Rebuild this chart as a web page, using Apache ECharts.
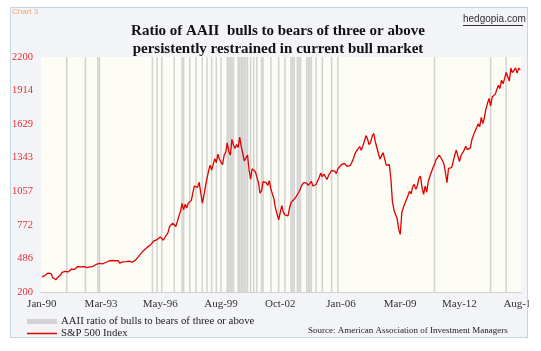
<!DOCTYPE html>
<html>
<head>
<meta charset="utf-8">
<script src="https://cdn.jsdelivr.net/npm/echarts@6/dist/echarts.min.js"></script>
<style>
  html, body { margin: 0; padding: 0; background: #ffffff; }
  #clip { position: absolute; left: 0; top: 0; width: 529px; height: 351px; overflow: hidden; }
  #frame { position: absolute; left: 10px; top: 7px; width: 516px; height: 329px;
           border: 1px solid #c8d5e3; background: #f3f4f7; }
  #chart { position: absolute; left: 0; top: 0; width: 541px; height: 351px; }
</style>
</head>
<body>
<div id="clip">
  <div id="frame"></div>
  <div id="chart"></div>
</div>
<script>
// tick labels
const xTicks = ['Jan-90', 'Mar-93', 'May-96', 'Aug-99', 'Oct-02', 'Jan-06', 'Mar-09', 'May-12', 'Aug-15']
const yTicks = ['200', '486', '772', '1057', '1343', '1629', '1914', '2200']

// S&P 500, monthly, Jan-90 .. Aug-15
const spx = [
  329, 332, 340, 331, 361, 358, 356, 323, 306, 304, 322, 330,
  344, 367, 375, 375, 390, 371, 388, 395, 388, 392, 375, 417,
  409, 413, 404, 415, 415, 408, 424, 414, 418, 419, 431, 436,
  439, 443, 452, 440, 450, 451, 448, 464, 459, 468, 462, 466,
  482, 467, 446, 451, 457, 444, 458, 475, 463, 472, 454, 459,
  470, 487, 501, 515, 533, 545, 562, 562, 584, 582, 605, 616,
  636, 640, 646, 654, 669, 671, 640, 652, 687, 705, 757, 741,
  786, 791, 757, 801, 848, 885, 954, 899, 947, 915, 955, 970,
  980, 1049, 1102, 1112, 1091, 1134, 1121, 957, 1017, 1099, 1164, 1229,
  1280, 1238, 1286, 1335, 1302, 1373, 1329, 1320, 1283, 1363, 1389, 1469,
  1394, 1366, 1499, 1452, 1421, 1455, 1431, 1518, 1437, 1429, 1315, 1320,
  1366, 1240, 1160, 1249, 1256, 1224, 1211, 1134, 1041, 1060, 1139, 1148,
  1130, 1107, 1147, 1077, 1067, 990, 912, 916, 815, 800, 936, 880,
  856, 841, 848, 917, 964, 975, 990, 1008, 996, 1051, 1058, 1112,
  1131, 1145, 1126, 1107, 1121, 1141, 1102, 1104, 1115, 1130, 1174, 1212,
  1181, 1204, 1181, 1157, 1192, 1191, 1234, 1220, 1229, 1207, 1249, 1248,
  1280, 1281, 1295, 1311, 1270, 1270, 1277, 1304, 1336, 1378, 1401, 1418,
  1438, 1407, 1421, 1482, 1531, 1503, 1455, 1474, 1527, 1549, 1481, 1468,
  1379, 1331, 1323, 1386, 1400, 1280, 1267, 1283, 1166, 969, 896, 903,
  826, 735, 690, 873, 919, 919, 987, 1021, 1057, 1036, 1096, 1115,
  1074, 1104, 1169, 1187, 1089, 1031, 1102, 1049, 1141, 1183, 1181, 1258,
  1286, 1327, 1326, 1364, 1345, 1321, 1292, 1219, 1131, 1253, 1247, 1258,
  1312, 1366, 1408, 1398, 1310, 1362, 1379, 1407, 1441, 1412, 1416, 1426,
  1498, 1515, 1569, 1598, 1631, 1606, 1686, 1633, 1682, 1757, 1806, 1848,
  1783, 1859, 1872, 1884, 1924, 1960, 1931, 2003, 1972, 2018, 2068, 2059,
  1995, 2105, 2068, 2086, 2107, 2063, 2104, 2090
]

// months where the AAII bulls/bears ratio was three or above
const bullMonths = [
  'May-91', 'May-92', 'Jan-93', 'Feb-93',
  'Dec-95', 'Mar-96', 'Jun-96', 'Feb-97', 'Jul-97', 'Aug-97', 'Dec-97',
  'Apr-98', 'Aug-98', 'Nov-98', 'Feb-99', 'May-99', 'Aug-99',
  'Dec-99', 'Jan-00', 'Feb-00', 'Mar-00', 'Apr-00',
  'Jul-00', 'Aug-00', 'Sep-00', 'Oct-00', 'Nov-00', 'Dec-00', 'Jan-01',
  'Mar-01', 'May-01', 'Jul-01', 'Oct-01', 'Nov-01', 'Apr-02', 'Sep-02',
  'Jan-03', 'May-03', 'Jun-03', 'Jul-03', 'Sep-03', 'Oct-03', 'Nov-03',
  'Mar-04', 'Apr-04', 'May-04', 'Jun-04', 'Sep-04', 'Jan-05', 'Jul-05', 'Nov-05',
  'Jan-11', 'Jan-14', 'Nov-14'
]

const monthNames = ['Jan', 'Feb', 'Mar', 'Apr', 'May', 'Jun', 'Jul', 'Aug', 'Sep', 'Oct', 'Nov', 'Dec']
const months = []
for (let i = 0; i < spx.length; i++) {
  const y = 1990 + Math.floor(i / 12)
  months.push(monthNames[i % 12] + '-' + String(y).slice(2))
}
const bullBars = months.map(m => (bullMonths.includes(m) ? 1 : '-'))

const serif = '"Liberation Serif", "DejaVu Serif", serif'
const barName = 'AAII ratio of bulls to bears of three or above'
const lineName = 'S&P 500 Index'
const legendText = { fontFamily: serif, fontSize: 10.8, color: '#222', padding: [0, 0, 0, -1] }

const chart = echarts.init(document.getElementById('chart'))
chart.setOption({
  animation: false,
  title: {
    text: 'Ratio of AAII  bulls to bears of three or above\npersistently restrained in current bull market',
    left: 273,
    top: 17,
    textAlign: 'center',
    textStyle: { fontFamily: serif, fontWeight: 'bold', fontSize: 15, lineHeight: 18, color: '#111' }
  },
  graphic: [
    { type: 'text', left: 12, top: 8, style: { text: 'Chart 3', font: '8px "Liberation Sans", sans-serif', fill: '#f0a868' } },
    { type: 'text', left: 463, top: 14, style: { text: 'hedgopia.com', font: '10px "Liberation Sans", sans-serif', fill: '#333' } },
    { type: 'line', shape: { x1: 463, y1: 25.5, x2: 523, y2: 25.5 }, style: { stroke: '#333', lineWidth: 1 } },
    { type: 'text', left: 308, top: 326, style: { text: 'Source: American Association of Investment Managers', font: '9px ' + serif, fill: '#222' } }
  ],
  legend: [
    {
      left: 27, top: 316, padding: 0,
      itemWidth: 30, itemHeight: 5,
      textStyle: legendText,
      data: [{ name: barName, icon: 'rect' }]
    },
    {
      left: 27, top: 328, padding: 0,
      itemWidth: 30, itemHeight: 1.5,
      textStyle: legendText,
      data: [{ name: lineName, icon: 'rect' }]
    }
  ],
  grid: {
    left: 41, right: 20, top: 57, bottom: 59,
    show: true, backgroundColor: '#fdfdf6', borderWidth: 0
  },
  xAxis: {
    type: 'category',
    data: months,
    boundaryGap: true,
    axisLine: { lineStyle: { color: '#d0d0d0', width: 1 } },
    axisTick: { show: false },
    axisLabel: {
      interval: (i, v) => xTicks.includes(v),
      fontFamily: serif, fontSize: 11, color: '#333', margin: 7
    }
  },
  yAxis: [
    {
      type: 'value',
      min: 200,
      max: 2200,
      interval: 2000 / 7,
      axisLine: { show: false },
      axisTick: { show: false },
      splitLine: { show: false },
      axisLabel: {
        fontFamily: serif, fontSize: 10.5, color: '#e03030', margin: 8,
        formatter: v => yTicks[Math.round((v - 200) / (2000 / 7))]
      }
    },
    { type: 'value', min: 0, max: 1, show: false }
  ],
  series: [
    {
      name: barName,
      type: 'bar',
      yAxisIndex: 1,
      data: bullBars,
      barWidth: '100%',
      barCategoryGap: '0%',
      itemStyle: { color: '#d3d3d3' },
      z: 1
    },
    {
      name: lineName,
      type: 'line',
      data: spx,
      symbol: 'none',
      showSymbol: false,
      lineStyle: { color: '#e00000', width: 1.3 },
      itemStyle: { color: '#e00000' },
      z: 3
    }
  ]
})
</script>
</body>
</html>
